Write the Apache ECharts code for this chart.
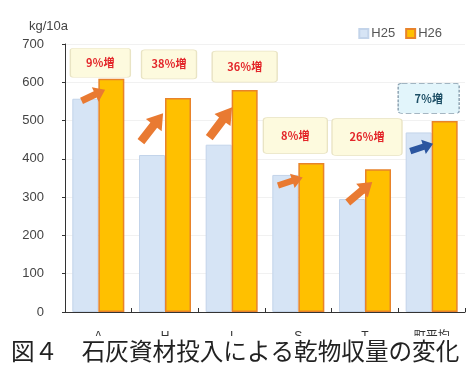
<!DOCTYPE html>
<html><head><meta charset="utf-8">
<script src="https://cdn.jsdelivr.net/npm/echarts@6/dist/echarts.min.js"></script>
<style>html,body{margin:0;padding:0;background:#fff;}#c{width:467px;height:372px;}</style>
</head><body><div id="c"></div>
<script>
var categories = ['A', 'H', 'I', 'S', 'T', '町平均'];
var h25 = [557, 410, 437, 358, 295, 469];
var h26 = [609, 559, 580, 389, 373, 499];
var increaseLabels = ['9％増', '38％増', '36％増', '8％増', '26％増', '7％増'];
var yTicks = [0, 100, 200, 300, 400, 500, 600, 700];
var unitLabel = 'kg/10a';
var caption = '図４　石灰資材投入による乾物収量の変化';

// annotation layout relative to the H26 bar (value level, x offset px, width, height)
var boxLayout = [
  [651, -11, 60, 29], [647, -9, 55, 29], [641, 0, 65, 31],
  [461, -16, 64, 36], [457, -11, 70, 37], [558, -16, 61, 30]
];
var arrowLayout = [
  [566, -18, 26, 16, 25], [482, -26, 36, 20, 52], [495, -24, 38, 20, 53],
  [341, -21, 26, 15, 18], [313, -18, 32, 18, 40], [430, -23, 24, 15, 18]
];
var arrowPath = 'path://M0,32 L58,32 L58,8 L100,50 L58,92 L58,68 L0,68 Z';
var boxPath = 'path://M6,0 L94,0 Q100,0 100,8 L100,92 Q100,100 94,100 L6,100 Q0,100 0,92 L0,8 Q0,0 6,0 Z';

var markData = [];
categories.forEach(function (c, i) {
  var b = boxLayout[i];
  var isAvg = i === 5;
  markData.push({
    coord: [c, b[0]], symbol: boxPath, symbolSize: [b[2], b[3]], symbolOffset: [b[1], 0],
    symbolKeepAspect: false,
    itemStyle: isAvg ? {color: '#e2f5fb', borderColor: '#8aa0b0', borderWidth: 1, borderType: 'dashed'}
                     : {color: '#fdfade', borderColor: '#e9e4c4', borderWidth: 1},
    label: {show: true, position: 'inside', formatter: increaseLabels[i],
            color: isAvg ? '#1d4f66' : '#e3262a', fontSize: 11, fontWeight: 'bold',
            fontFamily: '"Noto Sans CJK JP", sans-serif'}
  });
  var a = arrowLayout[i];
  markData.push({
    coord: [c, a[0]], symbol: arrowPath, symbolSize: [a[2], a[3]], symbolOffset: [a[1], 0],
    symbolRotate: a[4], symbolKeepAspect: false,
    itemStyle: {color: isAvg ? '#2c56a0' : '#e97a32', borderWidth: 0},
    label: {show: false}
  });
});

var chart = echarts.init(document.getElementById('c'), null, {renderer: 'canvas'});
chart.setOption({
  animation: false,
  textStyle: {fontFamily: '"Liberation Sans", "Noto Sans CJK JP", sans-serif'},
  grid: {left: 65, right: 2, top: 44, bottom: 60, containLabel: false},
  title: {text: unitLabel, left: 24, top: 15, textStyle: {fontSize: 13, fontWeight: 'normal', color: '#444'}},
  legend: {
    right: 20, top: 22, itemWidth: 9, itemHeight: 9, itemGap: 10,
    textStyle: {fontSize: 13, color: '#555', padding: [0, 0, 0, -2]},
    data: [{name: 'H25', icon: 'rect'}, {name: 'H26', icon: 'rect'}]
  },
  xAxis: {
    type: 'category', data: categories,
    axisLine: {lineStyle: {color: '#333', width: 1}},
    axisTick: {show: true, inside: true, length: 4, lineStyle: {color: '#333'}},
    axisLabel: {margin: 19, fontSize: 12, color: '#333'}
  },
  yAxis: {
    type: 'value', min: yTicks[0], max: yTicks[yTicks.length - 1], interval: 100,
    axisLine: {show: true, lineStyle: {color: '#333', width: 1}},
    axisTick: {show: true, length: 3, lineStyle: {color: '#333'}},
    axisLabel: {margin: 21, fontSize: 13, color: '#444'},
    splitLine: {show: true, lineStyle: {color: '#f1f1f1'}}
  },
  series: [
    {name: 'H25', type: 'bar', data: h25, barWidth: 26, barGap: '0%',
     itemStyle: {color: '#d6e4f5', borderColor: '#c3d4ea', borderWidth: 1}},
    {name: 'H26', type: 'bar', data: h26, barWidth: 26, barGap: '0%',
     itemStyle: {color: '#ffc000', borderColor: '#e8832a', borderWidth: 1.5},
     markPoint: {data: markData, z: 10}}
  ],
  graphic: [
    {type: 'rect', left: 0, top: 336, shape: {width: 467, height: 36}, style: {fill: '#fff'}, z: 100},
    {type: 'text', left: 11, top: 339, z: 101,
     style: {text: caption, fontSize: 23.6, fill: '#222', fontFamily: '"Noto Sans CJK JP", sans-serif'}}
  ]
});
</script>
</body></html>
